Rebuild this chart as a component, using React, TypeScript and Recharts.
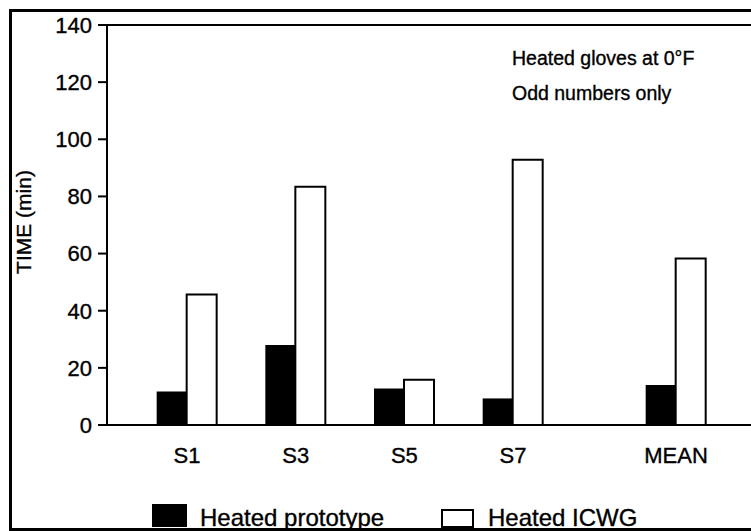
import React from 'react';
import { BarChart, Bar, XAxis, YAxis, Legend, ReferenceLine, Customized } from 'recharts';

const categories = ['S1', 'S3', 'S5', 'S7', 'MEAN'];
const xSlots = [1, 2, 3, 4, 5.5];
const heatedPrototype = [11.7, 28.0, 12.8, 9.3, 14.0];
const heatedICWG = [45.7, 83.4, 15.8, 92.8, 58.3];
const yTicks = [0, 20, 40, 60, 80, 100, 120, 140];
const seriesKeys = ['proto', 'icwg'];
const seriesNames = ['Heated prototype', 'Heated ICWG'];
const seriesFills = ['#000000', '#ffffff'];
const notes = ['Heated gloves at 0°F', 'Odd numbers only'];
const yLabel = 'TIME (min)';

const data = categories.map((c, i) => ({
  name: c,
  slot: xSlots[i],
  proto: heatedPrototype[i],
  icwg: heatedICWG[i],
}));

const FONT = '"Liberation Sans", Arial, Helvetica, sans-serif';
const INK = { stroke: '#000', strokeWidth: 0.35 };

const legendBoxes = [
  { rx: 12, ry: 9, rw: 35, rh: 23, tx: 60, sw: 0 },
  { rx: 302, ry: 15, rw: 31, rh: 17, tx: 348, sw: 2 },
];

const renderLegend = (props: any) => {
  const payload = props.payload || [];
  return (
    <svg width={520} height={38} style={{ display: 'block', overflow: 'visible' }}>
      {payload.map((p: any) => {
        const idx = Math.max(0, seriesKeys.indexOf(p.dataKey));
        const s = legendBoxes[idx];
        return (
          <g key={idx}>
            <rect x={s.rx} y={s.ry} width={s.rw} height={s.rh} fill={seriesFills[idx]} stroke="#000" strokeWidth={s.sw} />
            <text x={s.tx} y={31} fontSize={24} fontFamily={FONT} fill="#000" {...INK}>
              {seriesNames[idx]}
            </text>
          </g>
        );
      })}
    </svg>
  );
};

const Notes = () => (
  <g>
    <text x={512} y={65} fontSize={19.5} fontFamily={FONT} fill="#000" {...INK}>{notes[0]}</text>
    <text x={512} y={100} fontSize={19.5} fontFamily={FONT} fill="#000" {...INK}>{notes[1]}</text>
    <text
      x={31}
      y={222}
      fontSize={21}
      fontFamily={FONT}
      fill="#000"
      {...INK}
      textAnchor="middle"
      transform="rotate(-90, 31, 222)"
    >
      {yLabel}
    </text>
  </g>
);

export default function App() {
  return (
    <div
      style={{
        position: 'absolute',
        left: 0,
        top: 0,
        width: 751,
        height: 531,
        overflow: 'hidden',
        background: '#fff',
        fontFamily: FONT,
      }}
    >
      <div
        style={{
          position: 'absolute',
          left: 9,
          top: 9,
          width: 900,
          height: 522,
          boxSizing: 'border-box',
          border: '3px solid #000',
        }}
      />
      <div style={{ position: 'absolute', left: 0, top: 0 }}>
        <BarChart
          width={751}
          height={531}
          data={data}
          margin={{ top: 25, right: 0, bottom: 56, left: 0 }}
          barGap={0}
          barSize={30}
        >
          <XAxis
            dataKey="slot"
            type="number"
            domain={[0.2638, 6.19]}
            allowDataOverflow
            ticks={xSlots}
            interval={0}
            tickFormatter={(v: number) => categories[xSlots.indexOf(v)] ?? ''}
            tickLine={false}
            tickSize={0}
            tickMargin={22}
            height={50}
            axisLine={{ stroke: '#000', strokeWidth: 2 }}
            tick={{ fill: '#000', fontSize: 22, fontFamily: FONT, ...INK }}
          />
          <YAxis
            type="number"
            domain={[0, 140]}
            ticks={yTicks}
            interval={0}
            width={107}
            tickSize={9}
            tickMargin={6}
            axisLine={{ stroke: '#000', strokeWidth: 2 }}
            tickLine={{ stroke: '#000', strokeWidth: 2 }}
            tick={{ fill: '#000', fontSize: 22, fontFamily: FONT, ...INK }}
          />
          <ReferenceLine y={140} stroke="#000" strokeWidth={2} />
          <Bar dataKey="proto" name={seriesNames[0]} fill={seriesFills[0]} isAnimationActive={false} />
          <Bar dataKey="icwg" name={seriesNames[1]} fill={seriesFills[1]} stroke="#000" strokeWidth={2} isAnimationActive={false} />
          <Legend
            layout="horizontal"
            verticalAlign="middle"
            align="center"
            width={520}
            height={38}
            wrapperStyle={{ top: 495, left: 140 }}
            content={renderLegend}
          />
          <Customized component={Notes} />
        </BarChart>
      </div>
    </div>
  );
}
